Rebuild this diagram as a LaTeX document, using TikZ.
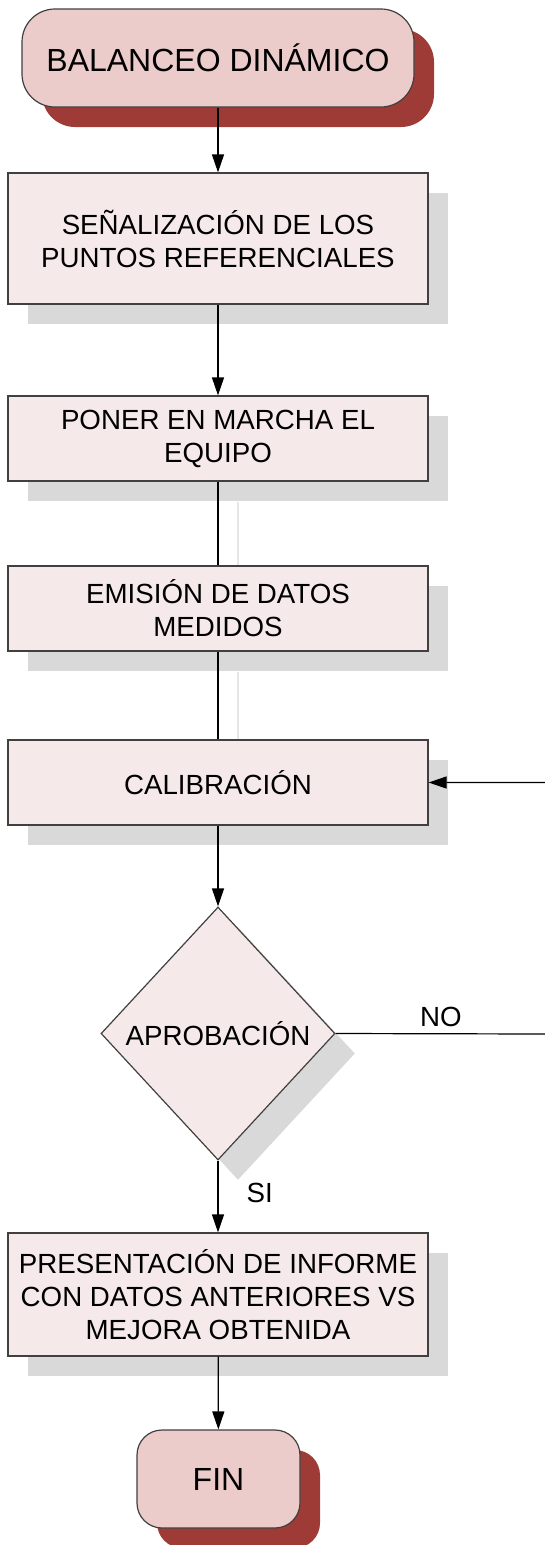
\documentclass[tikz,border=0pt]{standalone}
\usepackage{fontspec}
\setmainfont{Liberation Sans}
\usetikzlibrary{shapes.geometric,shadows,arrows.meta,backgrounds}
\definecolor{startfill}{RGB}{236,204,203}
\definecolor{startshade}{RGB}{158,59,54}
\definecolor{boxfill}{RGB}{245,234,233}
\definecolor{boxshade}{RGB}{217,217,217}
\definecolor{linkshade}{RGB}{230,230,230}
\definecolor{boxedge}{RGB}{64,64,64}
\tikzstyle{terminal}=[draw=boxedge,line width=1.2pt,fill=startfill,font=\fontsize{32pt}{38pt}\selectfont,
    drop shadow={shadow xshift=20pt,shadow yshift=-20pt,fill=startshade,opacity=1}]
\tikzstyle{process}=[draw=boxedge,line width=1.2pt,fill=boxfill,align=center,minimum width=420pt,inner sep=0pt,
    font=\fontsize{27.7pt}{33pt}\selectfont,
    drop shadow={shadow xshift=20pt,shadow yshift=-20pt,fill=boxshade,opacity=1}]
\tikzstyle{decision}=[diamond,draw=boxedge,line width=1.2pt,fill=boxfill,inner sep=0pt,
    minimum width=234pt,minimum height=253pt,aspect=0.925,font=\fontsize{27.7pt}{33pt}\selectfont,
    drop shadow={shadow xshift=20pt,shadow yshift=-20pt,fill=boxshade,opacity=1}]
\tikzstyle{flow}=[draw=black,line width=1.2pt,-{Triangle[length=18pt,width=12pt]}]
\tikzstyle{link}=[draw=black,line width=1.2pt]
\tikzstyle{linkshadow}=[draw=linkshade,line width=2pt]
\tikzstyle{answer}=[font=\fontsize{27.7pt}{33pt}\selectfont,inner sep=6pt]
\newcommand{\shadedlink}[2]{% Syntax: {upper node}{lower node}
    \begin{scope}[on background layer]
        \draw[linkshadow] ([shift={(20pt,-20pt)}]#1.south) -- ([shift={(20pt,-20pt)}]#2.north);
    \end{scope}
    \draw[link] (#1) -- (#2);
}

\begin{document}
\begin{tikzpicture}[x=1pt,y=-1pt]
	\useasboundingbox (0,0) rectangle (544,1545);
	% steps
	\node[terminal,rounded corners=33pt,minimum width=392pt,minimum height=98pt] (start) at (218,58) {BALANCEO DINÁMICO};
	\node[process,minimum height=131pt] (mark) at (218,238.5) {SEÑALIZACIÓN DE LOS\\PUNTOS REFERENCIALES};
	\node[process,minimum height=85pt] (run) at (218,438.5) {PONER EN MARCHA EL\\EQUIPO};
	\node[process,minimum height=85pt] (data) at (218,608.5) {EMISIÓN DE DATOS\\MEDIDOS};
	\node[process,minimum height=85pt] (calib) at (218,782.5) {CALIBRACIÓN};
	\node[decision] (check) at (218,1033.5) {APROBACIÓN};
	\node[process,minimum height=123pt] (report) at (218,1294.5) {PRESENTACIÓN DE INFORME\\CON DATOS ANTERIORES VS\\MEJORA OBTENIDA};
	\node[terminal,rounded corners=25pt,minimum width=163pt,minimum height=98pt] (stop) at (218.5,1479) {FIN};
	% connectors
	\coordinate (back) at (546,1034);
	\draw[flow] (start) -- (mark);
	\draw[flow] (mark) -- (run);
	\shadedlink{run}{data}
	\shadedlink{data}{calib}
	\draw[flow] (calib) -- (check);
	\draw[flow] (check.east) -- node[answer,above] {NO} (back) |- (calib.east);
	\draw[flow] (check) -- node[answer,pos=0.45,right,xshift=22pt] {SI} (report);
	\draw[flow] (report) -- (stop);
\end{tikzpicture}
\end{document}
